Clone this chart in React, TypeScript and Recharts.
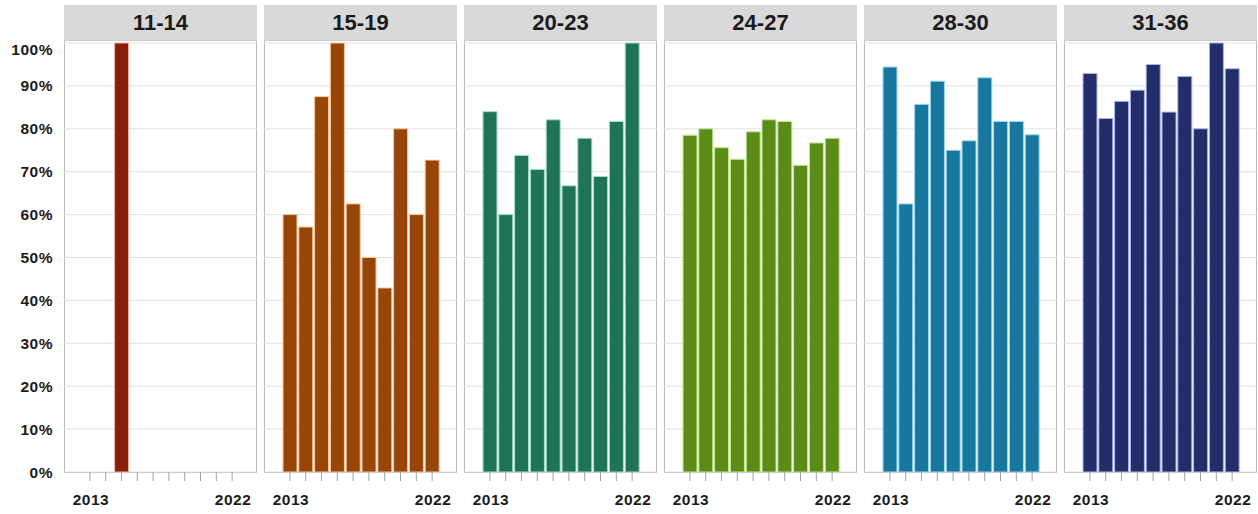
import { BarChart, Bar, XAxis, YAxis, CartesianGrid } from 'recharts';

const YEARS = ['2013', '2014', '2015', '2016', '2017', '2018', '2019', '2020', '2021', '2022'];
const AGE_GROUPS = ['11-14', '15-19', '20-23', '24-27', '28-30', '31-36'];
const Y_TICKS = [0, 10, 20, 30, 40, 50, 60, 70, 80, 90, 100];

// share per year (percent), null = no data
const SHARE_11_14 = [null, null, 100, null, null, null, null, null, null, null];
const SHARE_15_19 = [60, 57.1, 87.5, 100, 62.5, 50, 42.9, 80, 60, 72.7];
const SHARE_20_23 = [84, 60, 73.8, 70.5, 82.1, 66.7, 77.8, 68.9, 81.7, 100];
const SHARE_24_27 = [78.5, 80, 75.6, 72.9, 79.3, 82.1, 81.7, 71.5, 76.7, 77.8];
const SHARE_28_30 = [94.4, 62.5, 85.7, 91.1, 75, 77.2, 91.9, 81.7, 81.7, 78.6];
const SHARE_31_36 = [92.9, 82.4, 86.4, 89, 95, 83.9, 92.2, 80, 100, 94];

const SERIES = [SHARE_11_14, SHARE_15_19, SHARE_20_23, SHARE_24_27, SHARE_28_30, SHARE_31_36];
const COLORS = ['#8a1d0a', '#974508', '#1f7358', '#5b8c17', '#17779f', '#222d69'];
const EDGES = ['#f0b4a4', '#f5c69a', '#a6dcc6', '#c4ea94', '#9fd8ee', '#aab6e6'];

const FONT = '"Liberation Sans", Arial, sans-serif';
const PANEL_LEFT = 64;
const PANEL_STEP = 200;
const PANEL_W = 193;
const PLOT_TOP = 40;
const PLOT_H = 432;
const AXIS_W = 56;

function YearTick(props: any) {
  const { x, y, payload, index } = props;
  if (index !== 0 && index !== YEARS.length - 1) return null;
  return (
    <text x={x + 1} y={y + 22} textAnchor="middle" fontFamily={FONT} fontWeight="bold" fontSize={15.5} letterSpacing={0.5} fill="#1a1a1a">
      {payload.value}
    </text>
  );
}

function Panel({ idx }: { idx: number }) {
  const withAxis = idx === 0;
  const data = YEARS.map((year, i) => ({ year, value: SERIES[idx][i] }));
  const left = PANEL_LEFT + idx * PANEL_STEP;

  return (
    <>
      <div
        style={{
          position: 'absolute', left, top: 5, width: PANEL_W, height: 35,
          background: '#d9d9d9', display: 'flex', alignItems: 'center', justifyContent: 'center',
          fontFamily: FONT, fontWeight: 'bold', fontSize: 22, color: '#1a1a1a',
        }}
      >
        {AGE_GROUPS[idx]}
      </div>
      <div
        style={{
          position: 'absolute', left, top: PLOT_TOP, width: PANEL_W, height: PLOT_H + 1,
          border: '1px solid #b8b8b8', boxSizing: 'border-box', background: '#fff',
        }}
      />
      <div style={{ position: 'absolute', left: withAxis ? left - AXIS_W : left, top: PLOT_TOP }}>
        <BarChart
          width={withAxis ? PANEL_W + AXIS_W : PANEL_W}
          height={474}
          data={data}
          margin={{ top: 0, right: 0, bottom: 0, left: 0 }}
          barCategoryGap={1}
        >
          <CartesianGrid vertical={false} stroke="#e2e2e2" />
          <XAxis
            dataKey="year"
            height={42}
            interval={0}
            padding={{ left: 18, right: 17 }}
            axisLine={false}
            tickSize={9}
            tickLine={{ stroke: '#a0a0a0' }}
            tick={<YearTick />}
          />
          <YAxis
            hide={!withAxis}
            width={AXIS_W}
            domain={[0, 100.7]}
            ticks={Y_TICKS}
            allowDataOverflow
            axisLine={false}
            tickLine={false}
            tickMargin={5}
            tickFormatter={(v) => `${v}%`}
            tick={{ fontFamily: FONT, fontWeight: 'bold', fontSize: 15.5, fill: '#1a1a1a', letterSpacing: 0.5 }}
          />
          <Bar dataKey="value" fill={COLORS[idx]} stroke={EDGES[idx]} strokeWidth={1} isAnimationActive={false} />
        </BarChart>
      </div>
    </>
  );
}

export default function App() {
  return (
    <div style={{ position: 'absolute', left: 0, top: 0, width: 1258, height: 514, background: '#fff' }}>
      {AGE_GROUPS.map((_, i) => (
        <Panel key={i} idx={i} />
      ))}
    </div>
  );
}
